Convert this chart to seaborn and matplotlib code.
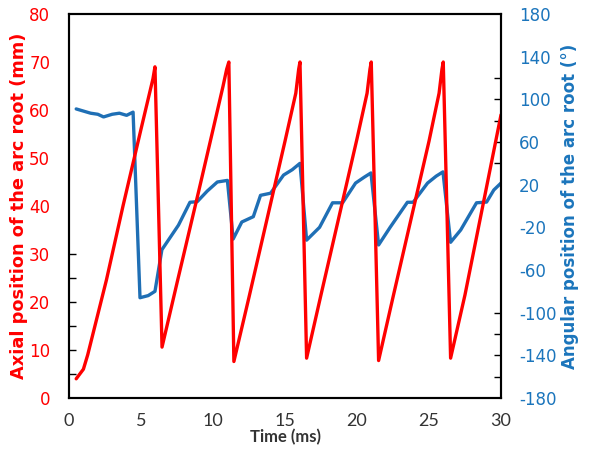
import numpy as np
import pandas as pd
import matplotlib
matplotlib.use("Agg")
import matplotlib.pyplot as plt
import seaborn as sns

sns.set_style("white")
plt.rcParams['font.family'] = ['DejaVu Sans']
plt.rcParams['axes.unicode_minus'] = False

# Axial position (mm) vs time (ms)
axial_t = [0.5, 1.0, 1.3, 2.6, 3.75, 5.0, 5.83, 5.97,
           6.46, 7.55, 9.0, 10.0, 10.7, 10.95, 11.1,
           11.45, 12.5, 14.0, 15.0, 15.75, 15.95, 16.04,
           16.5, 17.5, 19.0, 20.0, 20.7, 20.9, 20.99,
           21.5, 22.5, 24.0, 25.0, 25.7, 25.9, 25.99,
           26.5, 27.5, 29.0, 30.0]
axial_mm = [4.0, 6.0, 9.0, 24.6, 40.0, 56.0, 66.5, 69.0,
            10.6, 24.6, 43.0, 55.9, 65.0, 68.5, 70.0,
            7.6, 21.0, 40.5, 53.5, 63.5, 68.5, 70.0,
            8.3, 21.5, 41.0, 54.0, 63.5, 68.5, 70.0,
            7.8, 21.0, 40.5, 53.5, 63.5, 68.5, 70.0,
            8.3, 21.5, 44.0, 59.0]

# Angular position (deg) vs time (ms)
angle_t = [0.5, 1.0, 1.5, 2.0, 2.4, 3.0, 3.5, 4.0, 4.45,
           4.93, 5.5, 5.97, 6.45, 7.0, 7.6, 8.4, 8.9, 9.6, 10.3, 11.0,
           11.4, 12.0, 12.8, 13.3, 14.0, 14.9, 15.5, 16.04,
           16.5, 17.4, 18.3, 19.0, 19.9, 20.5, 20.97,
           21.5, 22.3, 23.5, 23.9, 24.9, 25.5, 25.97,
           26.5, 27.2, 28.3, 29.0, 29.5, 30.0]
angle_deg = [91, 89, 87, 86, 83.5, 86, 87, 85, 88,
             -86, -84, -80, -41, -30, -18, 3.5, 4, 14, 22.5, 24,
             -31, -15, -10, 10, 12, 29, 34, 40,
             -32, -20, 3, 3, 21.5, 27, 31,
             -36.5, -20, 3.5, 3.5, 21.5, 28, 32,
             -34, -22.5, 3, 3.7, 15, 21.5]

x_ticks = [0, 5, 10, 15, 20, 25, 30]
left_ticks = [0, 10, 20, 30, 40, 50, 60, 70, 80]
right_ticks = [-180, -140, -100, -60, -20, 20, 60, 100, 140, 180]
x_minor = [2, 2.9, 5.9, 8.9, 11.9, 18, 18.9, 22, 23, 24, 24.9, 27, 28]
left_minor = [5, 10, 15, 20, 25, 30]
right_minor = [40, 60, 80, 100, 120, -100, -120, -140, -160]

RED = "#FF0000"
BLUE = "#1F6FB5"
BLUE_TXT = "#1B75BC"

df_ax = pd.DataFrame({"t": axial_t, "v": axial_mm})
df_an = pd.DataFrame({"t": angle_t, "v": angle_deg})

fig = plt.figure(figsize=(5.91, 4.49), dpi=100)
ax = fig.add_axes([69/591, 1-398/449, (501-69)/591, (398-14)/449])
ax2 = ax.twinx()

sns.lineplot(data=df_an, x="t", y="v", ax=ax2, color=BLUE, lw=2.4, sort=False)
sns.lineplot(data=df_ax, x="t", y="v", ax=ax, color=RED, lw=2.4, sort=False)
ax.set_zorder(ax2.get_zorder() + 1)
ax.patch.set_visible(False)

ax.set_xlim(0, 30)
ax.set_ylim(0, 80)
ax2.set_ylim(-180, 180)
ax.set_xticks(x_ticks)
ax.set_yticks(left_ticks)
ax2.set_yticks(right_ticks)
ax.set_xticks(x_minor, minor=True)
ax.set_yticks(left_minor, minor=True)
ax2.set_yticks(right_minor, minor=True)
ax.xaxis.remove_overlapping_locs = False
ax.yaxis.remove_overlapping_locs = False
ax2.yaxis.remove_overlapping_locs = False

ax.tick_params(axis='x', which='major', length=0, pad=11, labelsize=13, labelcolor="#333333")
for lab in ax.get_xticklabels():
    lab.set_fontfamily(['Lato', 'DejaVu Sans'])
ax.tick_params(axis='x', which='minor', direction='in', length=4, width=1, color='black')
ax.tick_params(axis='y', which='major', length=0, pad=13.5, labelsize=12, labelcolor=RED)
ax.tick_params(axis='y', which='minor', direction='in', length=5, width=1, color='black')
ax2.tick_params(axis='y', which='major', length=0, pad=13, labelsize=12, labelcolor=BLUE_TXT)
ax2.tick_params(axis='y', which='minor', direction='in', length=5, width=1, color='black')

ax.set_xlabel("Time (ms)", fontsize=12, fontweight='bold', color="#333333", labelpad=0,
              fontfamily=['Lato', 'DejaVu Sans'])
ax.set_ylabel("Axial position of the arc root (mm)", fontsize=12.8, fontweight='bold', color=RED, labelpad=1)
ax2.set_ylabel("Angular position of the arc root (°)", fontsize=12, fontweight='bold', color=BLUE_TXT, labelpad=3)

for a in (ax, ax2):
    for s in a.spines.values():
        s.set_color('black')
        s.set_linewidth(1.5)
        s.set_visible(True)

fig.savefig("out.png", dpi=100)
